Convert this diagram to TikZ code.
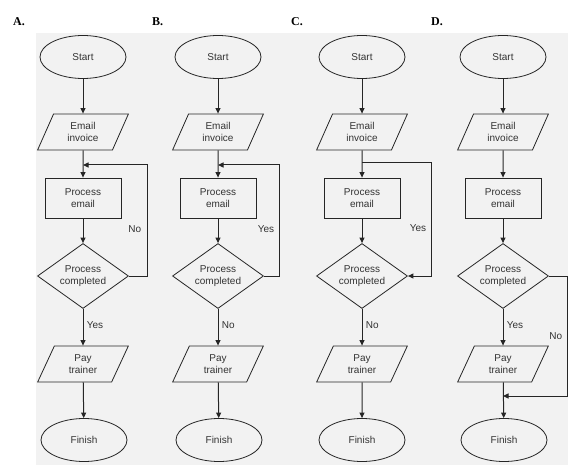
\documentclass[tikz,border=0pt]{standalone}
\usepackage{fontspec}
\setmainfont{Liberation Serif}
\setsansfont{Liberation Sans}
\usetikzlibrary{positioning,shapes.geometric,arrows.meta}
\tikzset {
    style terminal/.style={
        draw=black!85,
        thick,
        ellipse, % Set the shape as an ellipse
        minimum width=86pt,
        minimum height=43pt,
        align=center,
    },
    style data/.style={
        draw=black!85,
        thick,
        trapezium, % Set the shape as a parallelogram
        trapezium left angle=67,
        trapezium right angle=113,
        trapezium stretches=true,
        minimum width=91pt,
        minimum height=36pt,
        inner sep=0pt,
        align=center,
    },
    style process/.style={
        draw=black!85,
        thick,
        rectangle, % Set the shape as a rectangle
        minimum width=76pt,
        minimum height=40pt,
        align=center,
    },
    style decision/.style={
        draw=black!85,
        thick,
        diamond, % Set the shape as a diamond
        aspect=1.4,
        inner sep=0pt,
        minimum width=91pt,
        minimum height=65pt,
        align=center,
    },
    style arrow/.style={
        draw=black!85,
        line width=1pt,
        -{Triangle[length=5.5pt,width=5pt]},
    },
    style letter/.style={
        font=\rmfamily\bfseries\fontsize{12}{14}\selectfont,
        anchor=west,
        inner sep=0pt,
        text=black,
    },
}

\begin{document}
\begin{tikzpicture}
        [x=1pt, y=-1pt, font=\sffamily\fontsize{10}{12.5}\selectfont, text=black!80]

        \useasboundingbox (0,0) rectangle (575,465);
        \fill[black!5] (36,33) rectangle (568,465);

        % letters
        \node[style letter] (letA) at (13,22) {A.};
        \node[style letter] (letB) at (152,22) {B.};
        \node[style letter] (letC) at (291,22) {C.};
        \node[style letter] (letD) at (431,22) {D.};

        % chart A
        \node[style terminal] (startA) at (83,57) {Start};
        \node[style data] (emailA) at (83,132) {Email\\invoice};
        \node[style process] (procA) at (83,198) {Process\\email};
        \node[style decision] (decA) at (83,276) {Process\\completed};
        \node[style data] (payA) at (83,364) {Pay\\trainer};
        \node[style terminal] (finA) at (84,440) {Finish};
        \coordinate (joinA) at (83,165);

        \draw[style arrow] (startA) -- (emailA);
        \draw[style arrow] (emailA) -- (procA);
        \draw[style arrow] (procA) -- (decA);
        \draw[style arrow] (decA) -- node[right, pos=0.45] {Yes} (payA);
        \draw[style arrow] (payA) -- (finA);
        \draw[style arrow] (decA.east) -- (147,276) -- node[pos=0.42, left=2pt] {No} (147,165) -- (joinA);

        % chart B
        \node[style terminal] (startB) at (218,57) {Start};
        \node[style data] (emailB) at (218,132) {Email\\invoice};
        \node[style process] (procB) at (218,198) {Process\\email};
        \node[style decision] (decB) at (218,276) {Process\\completed};
        \node[style data] (payB) at (218,364) {Pay\\trainer};
        \node[style terminal] (finB) at (219,440) {Finish};
        \coordinate (joinB) at (218,165);

        \draw[style arrow] (startB) -- (emailB);
        \draw[style arrow] (emailB) -- (procB);
        \draw[style arrow] (procB) -- (decB);
        \draw[style arrow] (decB) -- node[right, pos=0.45] {No} (payB);
        \draw[style arrow] (payB) -- (finB);
        \draw[style arrow] (decB.east) -- (279,276) -- node[pos=0.42, left=1pt] {Yes} (279,165) -- (joinB);

        % chart C
        \node[style terminal] (startC) at (362,57) {Start};
        \node[style data] (emailC) at (362,132) {Email\\invoice};
        \node[style process] (procC) at (362,198) {Process\\email};
        \node[style decision] (decC) at (362,276) {Process\\completed};
        \node[style data] (payC) at (362,364) {Pay\\trainer};
        \node[style terminal] (finC) at (362,440) {Finish};
        \coordinate (joinC) at (362,163);

        \draw[style arrow] (startC) -- (emailC);
        \draw[style arrow] (emailC) -- (procC);
        \draw[style arrow] (procC) -- (decC);
        \draw[style arrow] (decC) -- node[right, pos=0.45] {No} (payC);
        \draw[style arrow] (payC) -- (finC);
        \draw[style arrow] (joinC) -- (431,163) -- node[pos=0.58, left=1pt] {Yes} (431,276) -- (decC.east);

        % chart D
        \node[style terminal] (startD) at (503,57) {Start};
        \node[style data] (emailD) at (503,132) {Email\\invoice};
        \node[style process] (procD) at (503,198) {Process\\email};
        \node[style decision] (decD) at (503,276) {Process\\completed};
        \node[style data] (payD) at (503,364) {Pay\\trainer};
        \node[style terminal] (finD) at (504,440) {Finish};
        \coordinate (joinD) at (503,396);

        \draw[style arrow] (startD) -- (emailD);
        \draw[style arrow] (emailD) -- (procD);
        \draw[style arrow] (procD) -- (decD);
        \draw[style arrow] (decD) -- node[right, pos=0.45] {Yes} (payD);
        \draw[style arrow] (payD) -- (finD);
        \draw[style arrow] (decD.east) -- (567,276) -- node[pos=0.5, left=1pt] {No} (567,396) -- (joinD);

    \end{tikzpicture}
\end{document}
